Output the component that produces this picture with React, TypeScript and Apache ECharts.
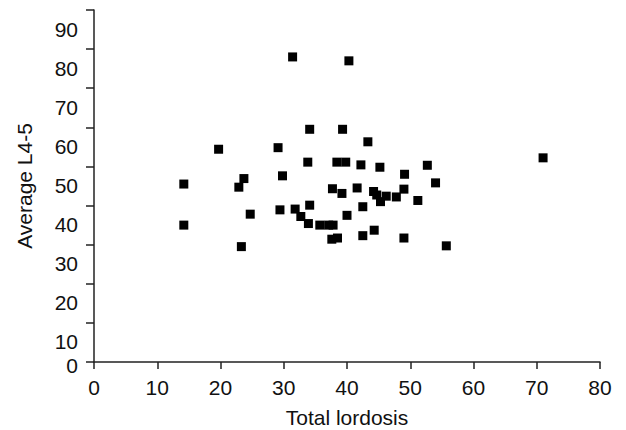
import React, { useEffect, useRef } from "react";
import * as echarts from "echarts";

const totalLordosis: number[] = [
  14.2, 14.2, 19.7, 22.9, 23.7, 23.3, 24.7, 29.1, 29.8, 29.4,
  31.4, 31.8, 32.7, 33.8, 34.1, 34.1, 33.9, 35.7, 37.1, 37.8,
  37.6, 38.5, 38.4, 39.8, 39.3, 40.3, 37.7, 39.2, 40.0, 41.6,
  42.2, 43.3, 42.5, 42.5, 44.2, 44.7, 44.3, 45.2, 45.3, 46.2,
  47.8, 49.1, 49.0, 49.0, 51.2, 52.7, 54.0, 55.7, 71.0,
];
const averageL45: number[] = [
  45.5, 35.0, 54.4, 44.7, 46.9, 29.5, 37.8, 54.8, 47.6, 38.9,
  78.0, 39.1, 37.2, 51.1, 59.5, 40.1, 35.4, 35.0, 35.0, 35.0,
  31.4, 31.7, 51.1, 51.1, 59.5, 77.0, 44.3, 43.1, 37.5, 44.5,
  50.4, 56.3, 39.7, 32.3, 43.6, 42.7, 33.7, 49.8, 41.0, 42.4,
  42.2, 48.0, 44.2, 31.7, 41.3, 50.3, 45.8, 29.7, 52.2,
];
const xTicks = { min: 0, max: 80, interval: 10 };
const yTicks = { min: 0, max: 90, interval: 10 };

export default function App() {
  const ref = useRef<HTMLDivElement>(null);
  useEffect(() => {
    if (!ref.current) return;
    const chart = echarts.init(ref.current, null, { renderer: "svg" });
    const font = "Liberation Sans, Arial, sans-serif";
    const axisColor = "#222222";
    const textColor = "#111111";
    chart.setOption({
      animation: false,
      backgroundColor: "#ffffff",
      grid: {
        left: 94,
        right: 26,
        top: 10,
        bottom: 68,
        containLabel: false,
        outerBoundsMode: "none",
      },
      xAxis: {
        type: "value",
        min: xTicks.min,
        max: xTicks.max,
        interval: xTicks.interval,
        name: "Total lordosis",
        nameLocation: "middle",
        nameGap: 45,
        nameTextStyle: { fontFamily: font, fontSize: 21, color: textColor },
        axisLine: { show: true, lineStyle: { color: axisColor, width: 1.5 } },
        axisTick: { show: true, inside: false, length: 7, lineStyle: { color: axisColor, width: 1.5 } },
        axisLabel: {
          margin: 15,
          fontFamily: font,
          fontSize: 21,
          color: textColor,
          showMinLabel: true,
          showMaxLabel: true,
          hideOverlap: false,
        },
        splitLine: { show: false },
      },
      yAxis: [
        {
          type: "value",
          min: yTicks.min,
          max: yTicks.max,
          interval: yTicks.interval,
          name: "Average L4-5",
          nameLocation: "middle",
          nameGap: 59,
          nameTextStyle: { fontFamily: font, fontSize: 21, color: textColor },
          axisLine: { show: true, lineStyle: { color: axisColor, width: 1.5 } },
          axisTick: { show: true, inside: false, length: 8, lineStyle: { color: axisColor, width: 1.5 } },
          axisLabel: {
            margin: 16,
            fontFamily: font,
            fontSize: 21,
            color: textColor,
            showMaxLabel: true,
            hideOverlap: false,
            formatter: (v: number) => (v === 0 ? "" : "{s|" + v + "}"),
            rich: {
              s: { fontFamily: font, fontSize: 21, color: textColor, padding: [38, 0, 0, 0] },
            },
          },
          splitLine: { show: false },
        },
        {
          type: "value",
          position: "left",
          min: yTicks.min,
          max: yTicks.max,
          interval: yTicks.interval,
          axisLine: { show: false },
          axisTick: { show: false },
          axisLabel: {
            margin: 16,
            fontFamily: font,
            fontSize: 21,
            color: textColor,
            showMinLabel: true,
            hideOverlap: false,
            formatter: (v: number) => (v === 0 ? "{z|0}" : ""),
            rich: {
              z: { fontFamily: font, fontSize: 21, color: textColor, padding: [6, 0, 0, 0] },
            },
          },
          splitLine: { show: false },
        },
      ],
      series: [
        {
          type: "scatter",
          symbol: "rect",
          symbolSize: 9,
          yAxisIndex: 0,
          itemStyle: { color: "#000000", opacity: 1 },
          data: totalLordosis.map((x, i) => [x, averageL45[i]]),
        },
      ],
    });
    return () => chart.dispose();
  }, []);
  return (
    <div
      ref={ref}
      style={{ position: "fixed", left: 0, top: 0, width: 626, height: 430, background: "#fff" }}
    />
  );
}
